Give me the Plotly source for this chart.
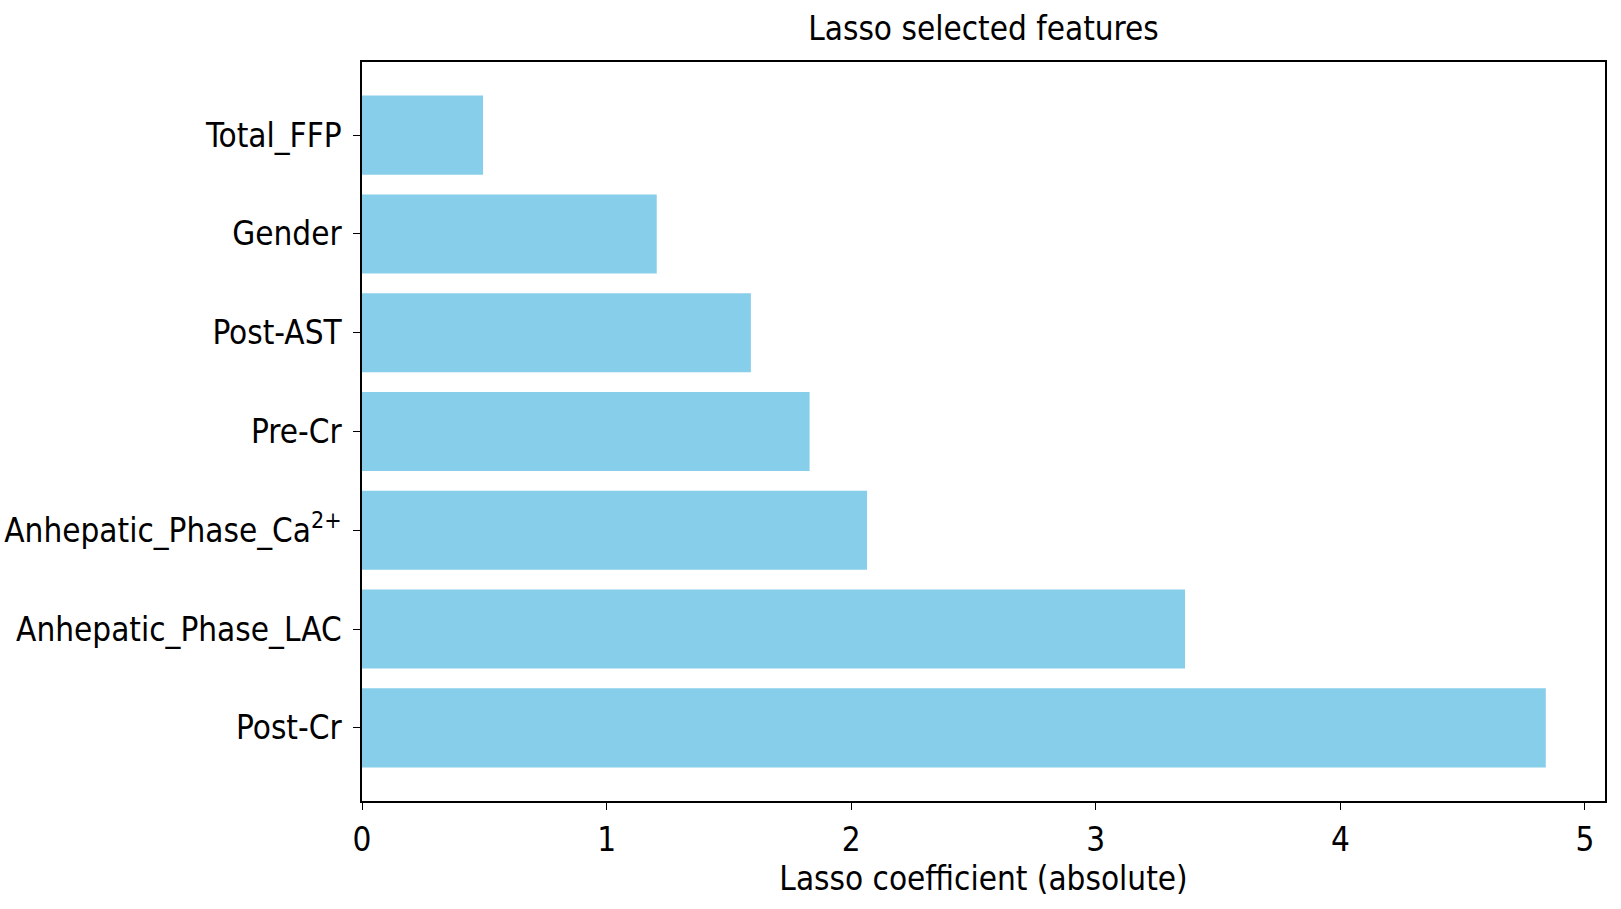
import plotly.graph_objects as go

features = ["Post-Cr", "Anhepatic_Phase_LAC", "Anhepatic_Phase_Ca<sup>2+</sup>",
            "Pre-Cr", "Post-AST", "Gender", "Total_FFP"]
coefs = [4.84, 3.365, 2.065, 1.83, 1.59, 1.205, 0.495]
x_ticks = [0, 1, 2, 3, 4, 5]

positions = list(range(len(features)))
FONT = "DejaVu Sans Condensed, DejaVu Sans, sans-serif"
FS = 33

fig = go.Figure(go.Bar(
    x=coefs, y=positions, orientation="h",
    width=0.8, marker=dict(color="#87CEEB", line=dict(width=0)),
))

fig.update_layout(
    width=1621, height=909,
    margin=dict(l=362, r=16, t=62, b=108),
    plot_bgcolor="white", paper_bgcolor="white",
    font=dict(family=FONT, size=FS, color="black"),
    title=dict(text="Lasso selected features", x=0.5, xref="paper",
               y=1 - 28 / 909, yref="container", yanchor="middle",
               font=dict(family=FONT, size=FS, color="black")),
    showlegend=False,
)
fig.update_xaxes(
    range=[0, max(coefs) * 1.05], tickvals=x_ticks, ticktext=[str(t) for t in x_ticks],
    showgrid=False, zeroline=False, showline=True, linecolor="black", linewidth=1.5,
    mirror=True, ticks="outside", ticklen=7, tickwidth=1.2, tickcolor="black",
    ticklabelstandoff=2, automargin=False,
    title=dict(text="Lasso coefficient (absolute)", standoff=3,
               font=dict(family=FONT, size=FS)),
    tickfont=dict(family=FONT, size=FS),
)
fig.update_yaxes(
    range=[-0.74, 6.74], tickvals=positions, ticktext=features,
    showgrid=False, zeroline=False, showline=True, linecolor="black", linewidth=1.5,
    mirror=True, ticks="outside", ticklen=7, tickwidth=1.2, tickcolor="black",
    ticklabelstandoff=5, automargin=False,
    tickfont=dict(family=FONT, size=FS),
)

fig.write_html("out.html")
